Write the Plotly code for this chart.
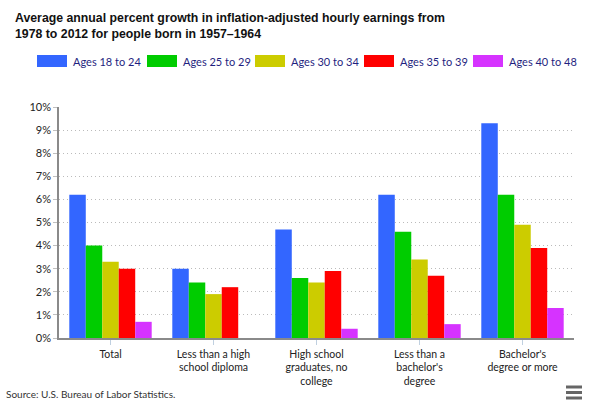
import plotly.graph_objects as go

categories = ["Total", "Less than a high<br>school diploma", "High school<br>graduates, no<br>college",
              "Less than a<br>bachelor's<br>degree", "Bachelor's<br>degree or more"]
series_names = ["Ages 18 to 24", "Ages 25 to 29", "Ages 30 to 34", "Ages 35 to 39", "Ages 40 to 48"]
ages_18_24 = [6.2, 3.0, 4.7, 6.2, 9.3]
ages_25_29 = [4.0, 2.4, 2.6, 4.6, 6.2]
ages_30_34 = [3.3, 1.9, 2.4, 3.4, 4.9]
ages_35_39 = [3.0, 2.2, 2.9, 2.7, 3.9]
ages_40_48 = [0.7, None, 0.4, 0.6, 1.3]
colors = ["#3366ff", "#00cc00", "#cccc00", "#ff0000", "#d633ff"]
y_ticks = list(range(0, 11))
y_tick_labels = [f"{v}%" for v in y_ticks]

W, H = 612, 414
L, R, T, B = 59, 574, 107, 338

def px2x(px):
    return (px - L) / (R - L)

def py2y(py):
    return (B - py) / (B - T)

fig = go.Figure()
all_series = [ages_18_24, ages_25_29, ages_30_34, ages_35_39, ages_40_48]
for name, vals, col in zip(series_names, all_series, colors):
    fig.add_trace(go.Bar(name=name, x=categories, y=vals, marker=dict(color=col, line=dict(width=0)),
                         showlegend=False))

FONT = "Lato, Noto Sans, sans-serif"
tick_font = dict(family=FONT, size=10.5, color="#222222")

fig.update_layout(
    width=W, height=H,
    margin=dict(l=L, r=W - R, t=T, b=H - B, pad=0),
    paper_bgcolor="white", plot_bgcolor="white",
    barmode="group", bargap=0.2, bargroupgap=0,
    title=dict(text="Average annual percent growth in inflation-adjusted hourly earnings from<br>1978 to 2012 for people born in 1957\u20131964",
               x=15 / W, xanchor="left", xref="container",
               y=1 - 22 / H, yanchor="top", yref="container",
               font=dict(family="Liberation Sans, Arial", size=12.3, color="#111111", weight="bold")),
    xaxis=dict(showgrid=False, showline=True, linecolor="#8a8a8a", linewidth=2,
               ticks="outside", ticklen=5, tickcolor="#c0d0e0", tickfont=tick_font),
    yaxis=dict(range=[0, 10], tickmode="array", tickvals=y_ticks, ticktext=y_tick_labels, showgrid=True,
               gridcolor="#bbbbbb", griddash="1px,3px", gridwidth=1,
               showline=True, linecolor="#8a8a8a", linewidth=1.5,
               ticks="outside", ticklen=4, tickcolor="#c0c0c0",
               tickfont=dict(family=FONT, size=11, color="#222222"), zeroline=False),
    font=tick_font,
)

# Custom legend
leg_x = [37, 147, 255, 364, 473]
shapes = []
annotations = []
for lx, name, col in zip(leg_x, series_names, colors):
    shapes.append(dict(type="rect", xref="paper", yref="paper",
                       x0=px2x(lx), x1=px2x(lx + 30), y0=py2y(67), y1=py2y(55),
                       fillcolor=col, line=dict(width=0)))
    annotations.append(dict(text=name, xref="paper", yref="paper", x=px2x(lx + 34), y=py2y(61),
                            xanchor="left", yanchor="middle", showarrow=False,
                            font=dict(family=FONT, size=11, color="#1f1f80")))

# Source
annotations.append(dict(text="Source: U.S. Bureau of Labor Statistics.", xref="paper", yref="paper",
                        x=px2x(4), y=py2y(394), xanchor="left", yanchor="middle", showarrow=False,
                        font=dict(family=FONT, size=10, color="#333333")))

# Menu icon
for yy in [387, 392.5, 398]:
    shapes.append(dict(type="line", xref="paper", yref="paper",
                       x0=px2x(566), x1=px2x(582), y0=py2y(yy), y1=py2y(yy),
                       line=dict(color="#666666", width=3)))

fig.update_layout(shapes=shapes, annotations=annotations)
fig.write_html("out.html", config={"displayModeBar": False},
               post_script="document.body.style.margin='0';")
